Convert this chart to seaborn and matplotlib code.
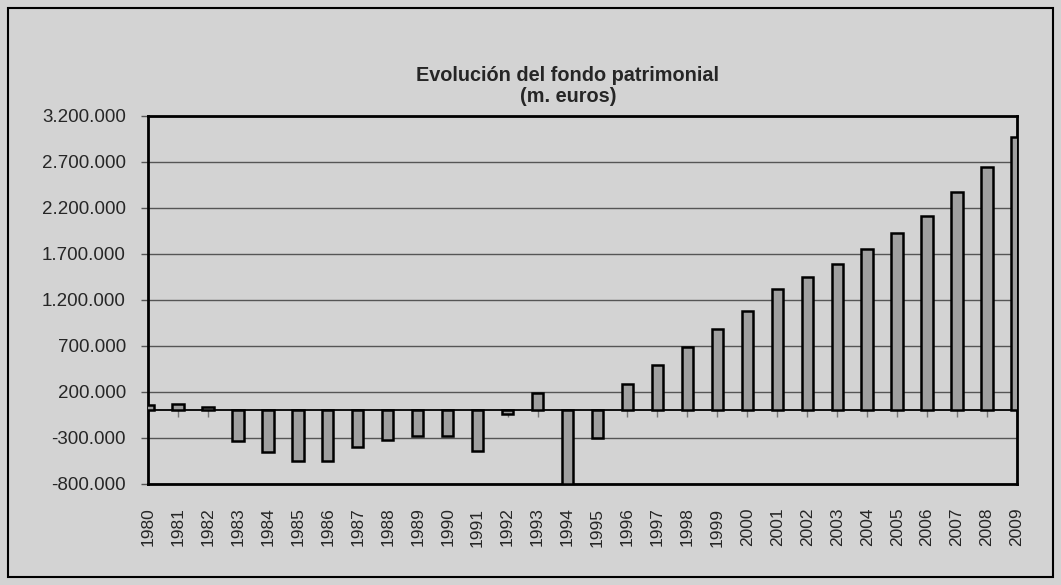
import matplotlib
matplotlib.use('Agg')
import matplotlib.pyplot as plt
import seaborn as sns
import pandas as pd
from matplotlib.patches import Rectangle
from matplotlib.ticker import FuncFormatter

# data (m. euros)
years = [str(y) for y in range(1980, 2010)]
fondo = [55000, 70000, 35000, -330000, -455000, -548000, -545000, -395000, -323000, -280000,
         -280000, -442000, -42000, 185000, -795000, -305000, 290000, 492000, 691000, 884000,
         1085000, 1315000, 1452000, 1587000, 1753000, 1924000, 2116000, 2370000, 2648000, 2974000]
y_ticks = list(range(-800000, 3200001, 500000))

sns.set_style('white')
plt.rcParams['font.family'] = ['Liberation Sans', 'DejaVu Sans']

bg = '#d3d3d3'
data = pd.DataFrame({'anio': years, 'fondo': fondo})

fig = plt.figure(figsize=(10.61, 5.85), dpi=100, facecolor=bg)
ax = fig.add_axes([148/1061, 1-484/585, (1017-148)/1061, (484-116)/585])
ax.set_facecolor(bg)

sns.barplot(data=data, x='anio', y='fondo', color='#a0a0a0', saturation=1,
            edgecolor='black', linewidth=1.8, width=0.38, ax=ax, zorder=3)

ax.set_xlim(0, len(years) - 1)
ax.set_ylim(y_ticks[0], y_ticks[-1])
ax.set_yticks(y_ticks)
ax.yaxis.set_major_formatter(FuncFormatter(lambda v, p: f'{int(v):,}'.replace(',', '.')))
ax.yaxis.grid(True, color='#555555', linewidth=1)
ax.set_axisbelow(True)
ax.axhline(0, color='black', linewidth=1.3, zorder=2)

ax.tick_params(axis='y', direction='out', length=5, width=1, color='#555555',
               labelsize=13.5, pad=11, left=True)
ax.tick_params(axis='x', length=0, labelsize=12.5, pad=17, rotation=90)
for lab in ax.get_xticklabels():
    lab.set_verticalalignment('top')
ax.set_xlabel('')
ax.set_ylabel('')
for s in ax.spines.values():
    s.set_color('black')
    s.set_linewidth(2)

# small tick marks on the zero line
zero_frac = (0 - y_ticks[0]) / (y_ticks[-1] - y_ticks[0])
sec = ax.secondary_xaxis(zero_frac)
sec.set_xticks(range(len(years)))
sec.set_xticklabels([])
sec.tick_params(direction='out', length=5, width=1, color='#777777')
sec.spines['bottom'].set_visible(False)

fig.text(568/1061, 1-86/585, 'Evolución del fondo patrimonial\n(m. euros)',
         ha='center', va='center', fontsize=14.3, fontweight='bold', linespacing=1.1)

fig.patches.append(Rectangle((8/1061, 8/585), (1053-8)/1061, (577-8)/585,
                             transform=fig.transFigure, fill=False,
                             edgecolor='black', linewidth=1.5))

fig.savefig('out.png', dpi=100, facecolor=bg)
